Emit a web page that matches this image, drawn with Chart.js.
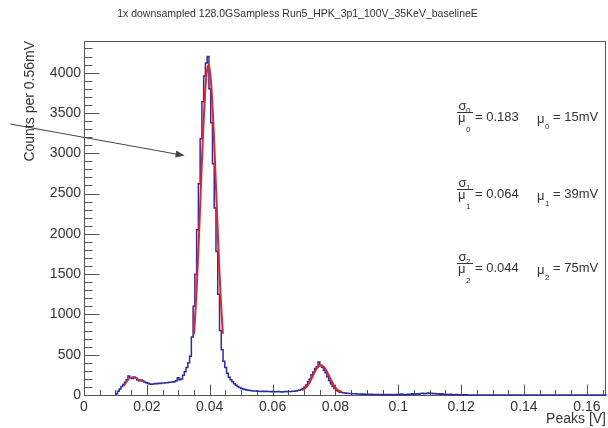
<!DOCTYPE html>
<html><head><meta charset="utf-8">
<script src="https://cdn.jsdelivr.net/npm/chart.js@4.4.0/dist/chart.umd.min.js"></script>
<style>html,body{margin:0;padding:0;background:#fff;}</style>
</head><body>
<canvas id="c" width="608" height="428"></canvas>
<script>
// ---------- data ----------
const chartTitle = "1x downsampled 128.0GSampless Run5_HPK_3p1_100V_35KeV_baselineE";
const xAxisTitle = "Peaks [V]";
const yAxisTitle = "Counts per 0.56mV";
const binWidth = 0.00056;     // V
const firstBin = 18;          // index of first listed bin
const counts = [
  0, 15, 45, 75, 105, 130, 158, 190, 235, 215,
  205, 222, 212, 185, 176, 185, 178, 162, 152, 145,
  138, 132, 136, 142, 140, 146, 143, 148, 150, 153,
  151, 157, 158, 160, 163, 178, 215, 190, 200, 245,
  290, 340, 400, 480, 720, 1100, 1500, 2050, 2620, 3180,
  3640, 3960, 4120, 4200, 3800, 3380, 2870, 2320, 1780, 1250,
  800, 560, 420, 340, 270, 220, 190, 165, 140, 120,
  105, 92, 82, 74, 67, 62, 58, 55, 52, 50,
  49, 47, 46, 44, 47, 43, 45, 42, 44, 40,
  43, 41, 39, 42, 40, 38, 41, 43, 40, 44,
  42, 45, 48, 50, 55, 60, 68, 78, 100, 125,
  165, 200, 250, 285, 330, 350, 410, 370, 345, 310,
  275, 225, 180, 140, 105, 80, 60, 45, 35, 30,
  27, 24, 22, 20, 18, 17, 15, 14, 13, 12,
  10, 11, 9, 8, 10, 7, 8, 6, 7, 6,
  5, 6, 5, 4, 6, 5, 4, 5, 4, 6,
  5, 4, 10, 12, 6, 4, 5, 8, 10, 14,
  8, 12, 15, 10, 18, 22, 16, 20, 24, 18,
  22, 15, 20, 12, 16, 10, 14, 8, 10, 6,
  5, 8, 4, 3, 5, 3, 2, 4, 2, 1,
  2, 1, 1, 0, 0, 0, 0, 0, 0, 0,
  0, 0, 0, 0, 0, 0, 0, 0, 0, 0,
  0, 0, 0, 0, 0, 0, 0, 0, 0, 0,
  0, 0, 0, 0, 0, 0, 0, 0, 0, 0,
  0, 0, 0, 0, 0, 0, 0, 0, 0, 0,
  0, 0, 0, 0, 0, 0, 0, 0, 0, 0,
  0, 0, 0, 0, 0, 0, 0, 0, 0, 0,
  0, 0, 0, 0, 0, 0, 0, 0, 0
];
const fit0X = [0.0127, 0.0132, 0.0137, 0.0142, 0.0147, 0.0152, 0.0157, 0.0162, 0.0167, 0.0172, 0.0177, 0.0182, 0.0187, 0.0190];
const fit0Y = [110, 140, 170, 195, 212, 220, 220, 215, 205, 195, 185, 178, 174, 172];
const fit1X = [0.0350, 0.0355, 0.0360, 0.0365, 0.0370, 0.0375, 0.0380, 0.0385, 0.0390, 0.0396, 0.0400, 0.0405, 0.0410, 0.0415, 0.0420, 0.0425, 0.0430, 0.0435, 0.0440, 0.0442];
const fit1Y = [754, 1067, 1452, 1898, 2383, 2876, 3336, 3716, 3978, 4094, 4042, 3837, 3500, 3067, 2583, 2089, 1624, 1213, 870, 760];
const fit2X = [0.0694, 0.0700, 0.0705, 0.0710, 0.0715, 0.0720, 0.0725, 0.0730, 0.0735, 0.0740, 0.0745, 0.0750, 0.0755, 0.0760, 0.0765, 0.0770, 0.0775, 0.0780, 0.0785, 0.0790, 0.0795, 0.0800, 0.0805, 0.0810, 0.0815, 0.0821];
const fit2Y = [62, 72, 88, 110, 138, 170, 210, 250, 290, 325, 350, 362, 365, 358, 340, 312, 275, 235, 195, 155, 120, 92, 70, 55, 46, 40];
const xTicks = [0, 0.02, 0.04, 0.06, 0.08, 0.1, 0.12, 0.14, 0.16];
const xTickLabels = ["0", "0.02", "0.04", "0.06", "0.08", "0.1", "0.12", "0.14", "0.16"];
const yTicks = [0, 500, 1000, 1500, 2000, 2500, 3000, 3500, 4000];
const yTickLabels = ["0", "500", "1000", "1500", "2000", "2500", "3000", "3500", "4000"];
const fitIndex = ["0", "1", "2"];
const fitRatio = ["0.183", "0.064", "0.044"];
const fitMean = ["15mV", "39mV", "75mV"];
const arrowFrom = {x: -0.0234, y: 3362};
const arrowTo = {x: 0.0320, y: 2971};
const xMin = 0, xMax = 0.1661, yMin = 0, yMax = 4393;
const xMinorStep = 0.005, yMinorStep = 100;

// ---------- build ----------
const FONT = '"Liberation Sans", Arial, Helvetica, sans-serif';
const histPoints = [];
counts.forEach((c, i) => histPoints.push({x: (firstBin + i) * binWidth, y: c}));
histPoints.push({x: (firstBin + counts.length) * binWidth, y: counts[counts.length - 1]});
const pts = (xs, ys) => xs.map((x, i) => ({x, y: ys[i]}));

const decor = {
  id: 'decor',
  beforeDatasetsDraw(chart) {
    const {ctx, chartArea: a, scales: {x, y}} = chart;
    ctx.save();
    const L = Math.round(a.left) + 0.5, R = Math.round(a.right) - 0.5;
    const T = Math.round(a.top) + 0.5, B = Math.round(a.bottom) + 0.5;
    ctx.strokeStyle = '#555';
    ctx.lineWidth = 1;
    ctx.beginPath();
    ctx.moveTo(L, T); ctx.lineTo(R, T); ctx.lineTo(R, B); ctx.lineTo(L, B); ctx.closePath();
    ctx.stroke();
    ctx.beginPath();
    for (let k = 0; k * yMinorStep <= yMax; k++) {
      const v = k * yMinorStep;
      const py = Math.round(y.getPixelForValue(v)) + 0.5;
      const len = (v % 500 === 0) ? 15 : 8;
      ctx.moveTo(L, py); ctx.lineTo(L + len, py);
    }
    for (let k = 0; k * xMinorStep <= xMax + 1e-9; k++) {
      const v = k * xMinorStep;
      const px = Math.round(x.getPixelForValue(v)) + 0.5;
      const len = (k % 4 === 0) ? 11 : 5.5;
      ctx.moveTo(px, B); ctx.lineTo(px, B - len);
    }
    ctx.stroke();
    ctx.restore();
  },
  afterDraw(chart) {
    const {ctx, scales: {x, y}} = chart;
    ctx.save();
    // title
    ctx.fillStyle = '#333';
    ctx.font = '10.5px ' + FONT;
    ctx.textAlign = 'center';
    ctx.textBaseline = 'middle';
    ctx.fillText(chartTitle, 297.5, 14);
    // arrow
    const x0 = x.getPixelForValue(arrowFrom.x), y0 = y.getPixelForValue(arrowFrom.y);
    const x1 = x.getPixelForValue(arrowTo.x), y1 = y.getPixelForValue(arrowTo.y);
    ctx.strokeStyle = '#444'; ctx.fillStyle = '#444'; ctx.lineWidth = 1;
    const ang = Math.atan2(y1 - y0, x1 - x0);
    ctx.beginPath(); ctx.moveTo(x0, y0);
    ctx.lineTo(x1 - 7 * Math.cos(ang), y1 - 7 * Math.sin(ang)); ctx.stroke();
    ctx.beginPath();
    ctx.moveTo(x1, y1);
    ctx.lineTo(x1 - 9 * Math.cos(ang) + 3.5 * Math.sin(ang), y1 - 9 * Math.sin(ang) - 3.5 * Math.cos(ang));
    ctx.lineTo(x1 - 9 * Math.cos(ang) - 3.5 * Math.sin(ang), y1 - 9 * Math.sin(ang) + 3.5 * Math.cos(ang));
    ctx.closePath(); ctx.fill();
    // fit annotations
    const rowsY = [117, 194, 268];
    ctx.fillStyle = '#333';
    ctx.textAlign = 'left';
    fitIndex.forEach((idx, r) => {
      const cy = rowsY[r];
      ctx.textBaseline = 'alphabetic';
      ctx.font = '13px ' + FONT;
      ctx.fillText('\u03C3', 458.5, cy - 7);
      ctx.fillText('\u03BC', 458, cy + 5);
      ctx.font = '8px ' + FONT;
      ctx.fillText(idx, 466, cy - 4);
      ctx.fillText(idx, 466, cy + 15);
      ctx.fillRect(457, Math.round(cy - 5), 16, 1);
      ctx.font = '13px ' + FONT;
      ctx.textBaseline = 'middle';
      ctx.fillText('= ' + fitRatio[r], 475, cy);
      ctx.textBaseline = 'alphabetic';
      ctx.fillText('\u03BC', 537, cy + 6);
      ctx.font = '8px ' + FONT;
      ctx.fillText(idx, 545, cy + 12);
      ctx.font = '13px ' + FONT;
      ctx.textBaseline = 'middle';
      ctx.fillText('= ' + fitMean[r], 553, cy);
    });
    ctx.restore();
  }
};

new Chart(document.getElementById('c'), {
  type: 'line',
  data: {
    datasets: [
      {data: pts(fit0X, fit0Y), borderColor: '#d8283a', borderWidth: 1.5, pointRadius: 0, tension: 0.3, clip: 3},
      {data: pts(fit1X, fit1Y), borderColor: '#e5222c', borderWidth: 2, pointRadius: 0, tension: 0.3, clip: 3},
      {data: pts(fit2X, fit2Y), borderColor: '#e5222c', borderWidth: 2, pointRadius: 0, tension: 0.3, clip: 3},
      {data: histPoints, borderColor: '#2a2d9c', borderWidth: 1.5, pointRadius: 0, stepped: 'after', clip: 3}
    ]
  },
  options: {
    responsive: false, animation: false, devicePixelRatio: 1,
    layout: {padding: {top: 41, right: 2, left: 0, bottom: 0}},
    plugins: {legend: {display: false}, tooltip: {enabled: false}, title: {display: false}},
    scales: {
      x: {
        type: 'linear', min: xMin, max: xMax, position: 'bottom',
        afterFit: s => { s.height = 33; },
        afterBuildTicks: s => { s.ticks = xTicks.map(v => ({value: v})); },
        ticks: {callback: (v, i) => xTickLabels[i], font: {family: FONT, size: 14}, color: '#333', padding: 4, maxRotation: 0, autoSkip: false},
        grid: {display: false, drawTicks: false}, border: {display: false},
        title: {display: true, text: xAxisTitle, align: 'end', font: {family: FONT, size: 14}, color: '#333', padding: {top: 0, bottom: 0.6}}
      },
      y: {
        type: 'linear', min: yMin, max: yMax,
        afterFit: s => { s.width = 84; },
        afterBuildTicks: s => { s.ticks = yTicks.map(v => ({value: v})); },
        ticks: {callback: (v, i) => yTickLabels[i], font: {family: FONT, size: 14}, color: '#333', padding: 3, autoSkip: false},
        grid: {display: false, drawTicks: false}, border: {display: false},
        title: {display: true, text: yAxisTitle, align: 'end', font: {family: FONT, size: 14}, color: '#333', padding: {top: 21.6, bottom: 0}}
      }
    }
  },
  plugins: [decor]
});
</script>
</body></html>
